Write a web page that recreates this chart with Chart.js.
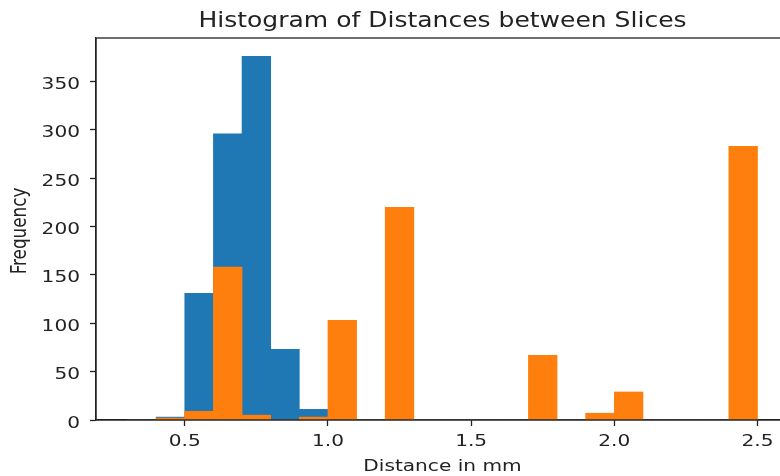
<!DOCTYPE html>
<html>
<head>
<meta charset="utf-8">
<title>Histogram of Distances between Slices</title>
<script src="https://cdn.jsdelivr.net/npm/chart.js@4/dist/chart.umd.min.js"></script>
<style>
    html, body { margin: 0; padding: 0; background: #fff; overflow: hidden; }
    #wrap { width: 780px; height: 476px; overflow: hidden; }
</style>
</head>
<body>
<div id="wrap"><canvas id="hist" width="790" height="476"></canvas></div>
<script>
// ===== DATA =====
// bin centres, bins are 0.1 mm wide from 0.3 to 2.5
const binCenters = [0.35, 0.45, 0.55, 0.65, 0.75, 0.85, 0.95, 1.05, 1.15, 1.25, 1.35,
                    1.45, 1.55, 1.65, 1.75, 1.85, 1.95, 2.05, 2.15, 2.25, 2.35, 2.45];
const blueCounts   = [0, 3, 131, 296, 376, 73, 11, 0, 0, 0, 0, 0, 0, 0, 0, 0, 0, 0, 0, 0, 0, 0];
const orangeCounts = [0, 2, 9, 158, 5, 0, 3, 103, 0, 220, 0, 0, 0, 0, 67, 0, 7, 29, 0, 0, 0, 283];
const xTickValues = [0.5, 1.0, 1.5, 2.0, 2.5];
const yTickValues = [0, 50, 100, 150, 200, 250, 300, 350];

const FONT = '"DejaVu Sans", sans-serif';
const INK = '#222';
const SX = 1.22; // the reference text is drawn wider than it is tall

/** Pair bin centres with counts for a linear x axis */
function toPoints(counts) {
    return binCenters.map((x, i) => ({ x: x, y: counts[i] }));
}

/** Draw text stretched horizontally, optionally rotated */
function wideText(ctx, text, x, y, align, size, rotate) {
    ctx.save();
    ctx.translate(x, y);
    ctx.scale(SX, 1);
    if (rotate) ctx.rotate(-Math.PI / 2);
    ctx.font = size + 'px ' + FONT;
    ctx.textAlign = align;
    ctx.textBaseline = 'alphabetic';
    ctx.fillText(text, 0, 0);
    ctx.restore();
}

/** Spines, title, tick labels and axis titles */
const frame = {
    id: 'frame',
    afterDraw(chart) {
        const { ctx, chartArea: a } = chart;
        const xs = chart.scales.x;
        const ys = chart.scales.y;
        ctx.save();
        ctx.strokeStyle = INK;
        ctx.lineWidth = 1.3;
        ctx.strokeRect(a.left, a.top, a.right - a.left, a.bottom - a.top);
        ctx.fillStyle = INK;

        wideText(ctx, 'Histogram of Distances between Slices', (a.left + a.right) / 2, 27, 'center', 20.5);

        xTickValues.forEach(v => {
            wideText(ctx, v.toFixed(1), xs.getPixelForValue(v), 446, 'center', 16.5);
        });
        yTickValues.forEach(v => {
            wideText(ctx, String(v), 80, ys.getPixelForValue(v) + 7.5, 'right', 16.5);
        });

        wideText(ctx, 'Distance in mm', (a.left + a.right) / 2, 471, 'center', 16.5);
        wideText(ctx, 'Frequency', 26, (a.top + a.bottom) / 2 + 2, 'center', 16.8, true);
        ctx.restore();
    }
};

new Chart(document.getElementById('hist'), {
    type: 'bar',
    data: {
        datasets: [
            {
                label: 'blue',
                data: toPoints(blueCounts),
                backgroundColor: '#1f77b4',
                order: 1
            },
            {
                label: 'orange',
                data: toPoints(orangeCounts),
                backgroundColor: '#ff7f0e',
                order: 0
            }
        ]
    },
    options: {
        responsive: false,
        animation: false,
        devicePixelRatio: 1,
        layout: { padding: { top: 38, right: 1, left: 0, bottom: 0 } },
        datasets: {
            bar: { grouped: false, barPercentage: 1, categoryPercentage: 1, borderWidth: 0 }
        },
        plugins: {
            legend: { display: false },
            tooltip: { enabled: false }
        },
        scales: {
            x: {
                type: 'linear',
                offset: false,
                min: 0.19,
                max: 2.61,
                grid: { drawOnChartArea: false, offset: false, tickLength: 6, tickColor: INK, tickWidth: 1.3 },
                border: { color: INK, width: 1.3 },
                ticks: { display: false },
                afterBuildTicks: (scale) => { scale.ticks = xTickValues.map(v => ({ value: v })); },
                afterFit: (scale) => { scale.height = 56; }
            },
            y: {
                min: 0,
                max: 395,
                grid: { drawOnChartArea: false, tickLength: 6, tickColor: INK, tickWidth: 1.3 },
                border: { color: INK, width: 1.3 },
                ticks: { display: false },
                afterBuildTicks: (scale) => { scale.ticks = yTickValues.map(v => ({ value: v })); },
                afterFit: (scale) => { scale.width = 96; }
            }
        }
    },
    plugins: [frame]
});
</script>
</body>
</html>
